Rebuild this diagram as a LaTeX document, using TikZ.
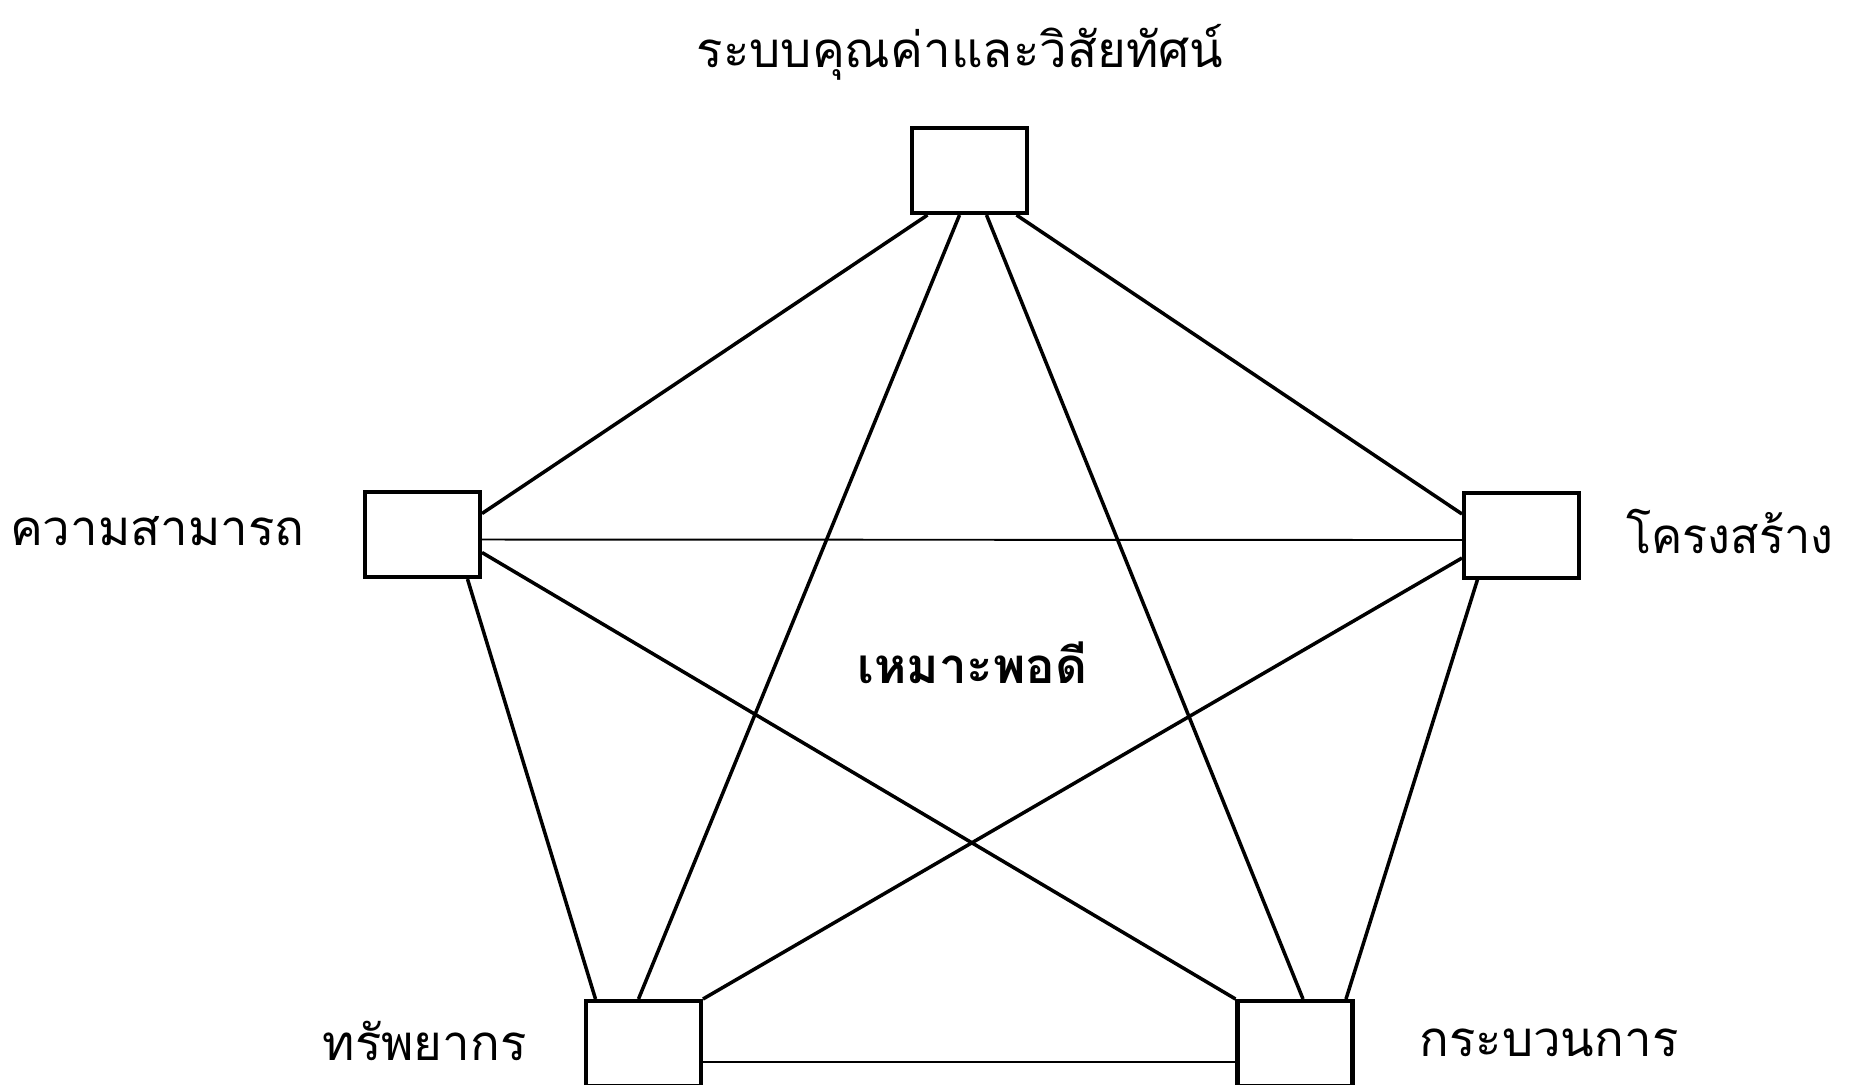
\documentclass[tikz,border=0pt]{standalone}
\usepackage{graphicx}
\usepackage{fontspec}
\newfontfamily\thaifont[Script=Thai]{Loma}
\usetikzlibrary{calc}

\tikzset{
  box/.style={draw, line width=1.15pt, minimum width=1.15cm, minimum height=0.85cm, inner sep=0pt},
  link/.style={line width=1pt},
  flat/.style={line width=0.55pt},
}

\begin{document}
\begin{tikzpicture}[font=\thaifont\fontsize{14}{17}\selectfont]
  \useasboundingbox (0, 0) rectangle (18.58, -10.84);

  \node[box] (vis) at (9.695, -1.705) {};
  \node[box] (cap) at (4.225, -5.345) {};
  \node[box] (str) at (15.215, -5.35) {};
  \node[box] (res) at (6.435, -10.435) {};
  \node[box] (proc) at (12.95, -10.435) {};

  \node (tvis) at (9.6, -0.52) {ระบบคุณค่าและวิสัยทัศน์};
  \node[anchor=east] (tcap) at (3.17, -5.31) {ความสามารถ};
  \node[anchor=west] (tstr) at (16.14, -5.31) {\scalebox{0.95}[1]{โครงสร้าง}};
  \node[anchor=east] (tres) at (5.39, -10.41) {ทรัพยากร};
  \node[anchor=west] (tproc) at (14.07, -10.43) {กระบวนการ};
  \node[anchor=west, font=\thaifont\bfseries\fontsize{14}{17}\selectfont] (fit) at (8.45, -6.63) {เหมาะพอดี};

  \draw[link] ($(vis.south)+(-0.42,0)$) -- ($(cap.east)+(0,0.21)$);
  \draw[link] ($(vis.south)+(0.47,0)$) -- ($(str.west)+(0,0.21)$);
  \draw[link] ($(vis.south)+(-0.1,0)$) -- ($(res.north)+(-0.05,0)$);
  \draw[link] ($(vis.south)+(0.17,0)$) -- ($(proc.north)+(0.08,0)$);
  \draw[flat] ($(cap.east)+(0,-0.05)$) -- ($(str.west)+(0,-0.05)$);
  \draw[link] ($(cap.south)+(0.45,0)$) -- ($(res.north)+(-0.48,0)$);
  \draw[link] ($(cap.east)+(0,-0.18)$) -- (proc.north west);
  \draw[link] ($(str.west)+(0,-0.23)$) -- (res.north east);
  \draw[link] ($(str.south)+(-0.44,0)$) -- ($(proc.north)+(0.51,0)$);
  \draw[flat] ($(res.east)+(0,-0.185)$) -- ($(proc.west)+(0,-0.185)$);
\end{tikzpicture}
\end{document}
